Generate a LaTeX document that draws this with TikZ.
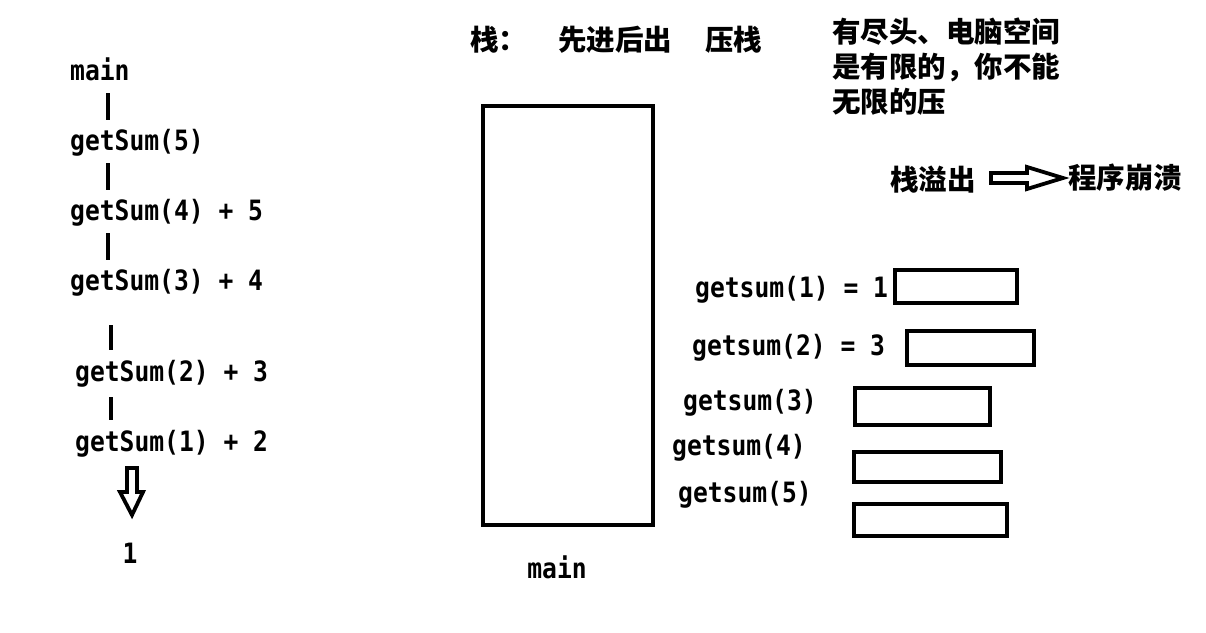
\documentclass[tikz,border=0pt]{standalone}
\usepackage{fontspec}
\newfontfamily\cjk{Noto Sans CJK SC}
\newfontfamily\code{DejaVu Sans Mono}[FakeStretch=0.88]
\tikzset{
  code/.style={font=\code\bfseries\fontsize{28}{30}\selectfont, inner sep=0pt, anchor=west, text height=20pt, text depth=6pt},
  zh/.style={font=\cjk\bfseries\fontsize{28.5}{35}\selectfont, inner sep=0pt, anchor=west},
  box/.style={draw, line width=4pt},
  vbar/.style={line width=3.3pt},
  hollow/.style={draw, line width=3.8pt, line join=miter},
}
\begin{document}
\begin{tikzpicture}[x=1pt,y=-1pt]
\useasboundingbox[fill=white] (0,0) rectangle (1206,632);
% left column
\node[code] (main) at (70,73) {main};
\node[code] (g5) at (70,143) {getSum(5)};
\node[code] (g4) at (70,213) {getSum(4) + 5};
\node[code] (g3) at (70,283) {getSum(3) + 4};
\node[code] (g2) at (75,374) {getSum(2) + 3};
\node[code] (g1) at (75,444) {getSum(1) + 2};
\node[code, anchor=center] (one) at (130,556) {1};
\coordinate (bx) at (108,0);
\coordinate (by) at (111,0);
\draw[vbar, shorten <=7pt, shorten >=10pt] (main.south -| bx) -- (g5.north -| bx);
\draw[vbar, shorten <=7pt, shorten >=10pt] (g5.south -| bx) -- (g4.north -| bx);
\draw[vbar, shorten <=7pt, shorten >=10pt] (g4.south -| bx) -- (g3.north -| bx);
\draw[vbar, shorten <=29pt, shorten >=11pt] (g3.south -| by) -- (g2.north -| by);
\draw[vbar, shorten <=10pt, shorten >=11pt] (g2.south -| by) -- (g1.north -| by);
% down hollow arrow
\coordinate (da) at (132,468);
\draw[hollow] (da) ++(-5,0) -- ++(10,0) -- ++(0,24) -- ++(6,0) -- ++(-11,23) -- ++(-12,-23) -- ++(7,0) -- cycle;
% stack
\node[zh] (t1) at (470,40) {栈：};
\node[zh] (t2) at (558,40) {先进后出};
\node[zh] (t3) at (705,40) {压栈};
\draw[box] (483,106) rectangle (653,525);
\node[code, anchor=center] (sm) at (557,571) {main};
% right notes
\node[zh, align=left] (note) at (832,67) {有尽头、电脑空间\\是有限的，你不能\\无限的压};
\node[zh] (so) at (890,180) {栈溢出};
\node[zh] (crash) at (1068,178) {程序崩溃};
\coordinate (ra) at (991,178);
\draw[hollow] (ra) ++(0,-5) -- ++(36,0) -- ++(0,-6) -- ++(36,11) -- ++(-36,11) -- ++(0,-6) -- ++(-36,0) -- cycle;
% frames
\node[code] (s1) at (695,290) {getsum(1) = 1};
\node[code] (s2) at (692,348) {getsum(2) = 3};
\node[code] (s3) at (683,403) {getsum(3)};
\node[code] (s4) at (672,448) {getsum(4)};
\node[code] (s5) at (678,495) {getsum(5)};
\draw[box] (895,270) rectangle (1017,303);
\draw[box] (907,331) rectangle (1034,365);
\draw[box] (855,388) rectangle (990,425);
\draw[box] (854,452) rectangle (1001,482);
\draw[box] (854,504) rectangle (1007,536);
\end{tikzpicture}
\end{document}
